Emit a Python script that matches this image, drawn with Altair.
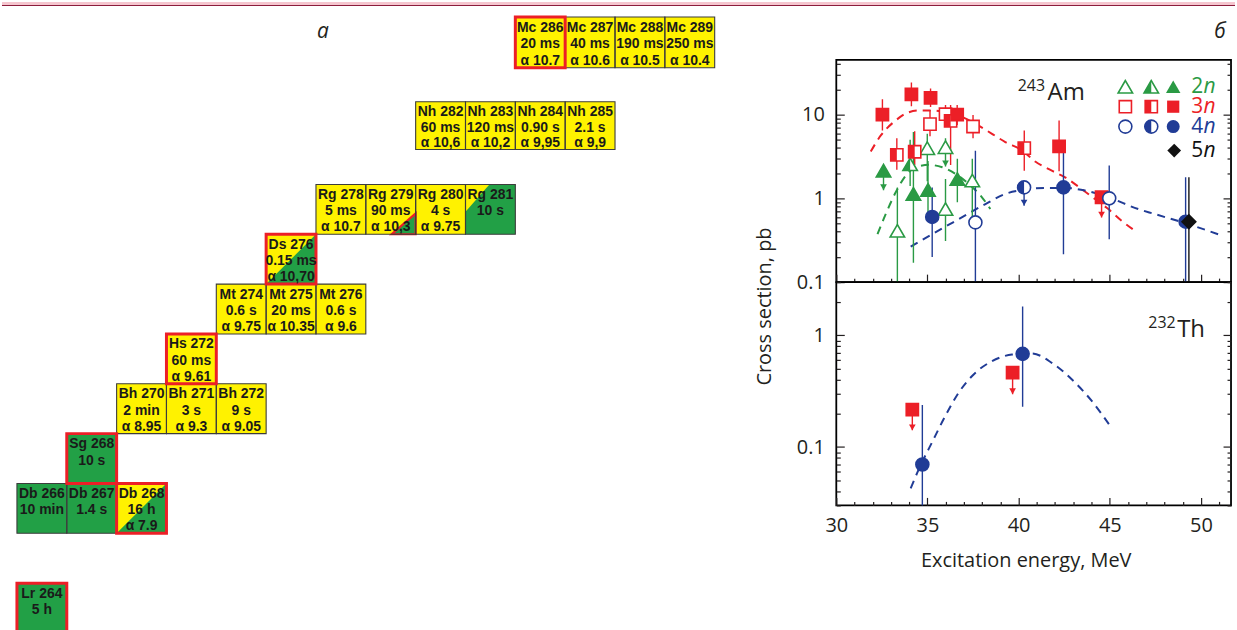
import altair as alt
import pandas as pd

FONT = "Open Sans"
CELL_FONT = "Liberation Sans, Arial, sans-serif"
INK = "#231f20"
YELLOW = "#fff200"
GREEN = "#22a046"
RED = "#ec1f27"
EDGE = "#3c3c3c"

# ---------------- chart of nuclides (panel а) ----------------
nuclide = ["Lr 264", "Db 266", "Db 267", "Db 268", "Sg 268", "Bh 270", "Bh 271", "Bh 272",
           "Hs 272", "Mt 274", "Mt 275", "Mt 276", "Ds 276", "Rg 278", "Rg 279", "Rg 280",
           "Rg 281", "Nh 282", "Nh 283", "Nh 284", "Nh 285", "Mc 286", "Mc 287", "Mc 288",
           "Mc 289"]
proton_number = [103, 105, 105, 105, 106, 107, 107, 107, 108, 109, 109, 109, 110,
                 111, 111, 111, 111, 113, 113, 113, 113, 115, 115, 115, 115]
neutron_number = [161, 161, 162, 163, 162, 163, 164, 165, 164, 165, 166, 167, 166,
                  167, 168, 169, 170, 169, 170, 171, 172, 171, 172, 173, 174]
half_life = ["5 h", "10 min", "1.4 s", "16 h", "10 s", "2 min", "3 s", "9 s", "60 ms",
             "0.6 s", "20 ms", "0.6 s", "0.15 ms", "5 ms", "90 ms", "4 s", "10 s",
             "60 ms", "120 ms", "0.90 s", "2.1 s", "20 ms", "40 ms", "190 ms", "250 ms"]
alpha_energy = ["", "", "", "7.9", "", "8.95", "9.3", "9.05", "9.61", "9.75", "10.35", "9.6",
                "10,70", "10.7", "10,3", "9.75", "", "10,6", "10,2", "9,95", "9,9",
                "10.7", "10.6", "10.5", "10.4"]
main_decay = ["SF", "SF", "SF", "α", "SF", "α", "α", "α", "α", "α", "α", "α", "α",
              "α", "α", "α", "SF", "α", "α", "α", "α", "α", "α", "α", "α"]
red_frame = [1, 0, 0, 1, 1, 0, 0, 0, 1, 0, 0, 0, 1, 0, 0, 0, 0, 0, 0, 0, 0, 1, 0, 0, 0]

# secondary decay branches shown as a corner of the cell
corner_nuclide = ["Db 268", "Ds 276", "Rg 281", "Rg 279"]
corner_shape = ["diagonal", "diagonal", "top_left", "bottom_right"]
corner_decay = ["SF", "SF", "α", "SF"]
corner_outline = [False, False, False, True]

# ---------------- excitation functions (panel б) ----------------
# 243Am + 48Ca
am_series = ["2n"] * 10 + ["3n"] * 13 + ["4n"] * 6 + ["5n"]
am_marker = ["open", "open", "open", "open", "open", "half", "full", "full", "full", "full",
             "open", "open", "open", "half", "half", "half", "half",
             "full", "full", "full", "full", "full", "full",
             "open", "open", "half", "full", "full", "full", "full"]
am_energy = [33.35, 34.99, 35.99, 37.46, 35.99, 34.05, 32.59, 34.23, 35.03, 36.64,
             35.14, 35.99, 37.50, 33.32, 34.30, 36.27, 40.31,
             32.53, 34.12, 35.17, 36.63, 42.22, 44.55,
             37.63, 44.97, 40.30, 35.26, 42.46, 49.16, 49.34]
am_sigma = [0.41, 3.97, 0.745, 1.63, 4.08, 2.55, 2.14, 1.13, 1.26, 1.70,
            7.7, 10.1, 7.2, 3.3, 3.6, 8.4, 3.97,
            10.0, 17.4, 15.8, 10.0, 4.16, 1.03,
            0.516, 1.0, 1.35, 0.60, 1.35, 0.526, 0.526]
am_low = [0.05, 1.6, 0.31, 0.565, None, 1.4, None, 0.17, 0.55, 0.9,
          5.5, 7.5, 5.2, 2.2, 2.5, 2.5, 2.14,
          6.46, 12.6, 12.3, 7.5, 2.1, None,
          0.05, 0.325, None, 0.2, 0.215, 0.05, 0.05]
am_high = [1.35, 5.9, 1.7, 2.96, 5.2, 5.0, None, 6.2, 2.8, 2.96,
           11.3, 13.0, 9.9, 5.23, 6.3, 13.0, 6.46,
           15.2, 24.1, 20.4, 13.0, 8.5, None,
           3.7, 2.46, None, 1.35, 3.55, 1.78, 1.78]
am_limit = [None, None, None, None, 2.4, None, 1.25, None, None, None,
            None, None, None, None, None, None, None,
            None, None, None, None, None, 0.59,
            None, None, 0.817, None, None, None, None]

# 232Th + 48Ca
th_series = ["4n", "4n", "3n", "3n"]
th_marker = ["full", "full", "full", "full"]
th_energy = [34.72, 40.22, 34.17, 39.67]
th_sigma = [0.0697, 0.683, 0.216, 0.463]
th_low = [0.02, 0.23, None, None]
th_high = [0.238, 1.81, None, None]
th_limit = [None, None, 0.141, 0.297]

# calculated cross sections (dashed curves)
am2n_energy = [32.26, 32.71, 33.26, 33.81, 34.35, 35.08, 35.81, 36.54, 37.27, 37.99, 38.45]
am2n_sigma = [0.374, 0.649, 1.18, 1.87, 2.35, 2.51, 2.35, 1.96, 1.48, 1.03, 0.745]
am3n_energy = [31.89, 32.44, 33.26, 33.90, 34.54, 35.26, 35.99, 36.90, 37.63, 38.54,
               39.27, 40.18, 40.91, 41.82, 42.55, 43.46, 44.19, 44.92, 45.65, 46.38]
am3n_sigma = [3.62, 5.63, 8.51, 10.5, 11.2, 11.2, 10.7, 9.33, 7.77, 5.89,
              4.69, 3.75, 2.75, 2.14, 1.78, 1.29, 0.98, 0.745, 0.54, 0.41]
am4n_energy = [34.08, 35.26, 36.72, 38.18, 39.27, 40.36, 41.46, 42.55, 43.64, 44.92,
               46.56, 47.47, 49.29, 51.20]
am4n_sigma = [0.266, 0.374, 0.566, 0.855, 1.13, 1.27, 1.33, 1.33, 1.24, 1.03,
              0.745, 0.649, 0.493, 0.357]
th4n_energy = [34.08, 34.54, 35.26, 35.99, 36.72, 37.45, 38.54, 39.64, 40.73, 41.82,
               42.91, 44.00, 45.00]
th4n_sigma = [0.0427, 0.064, 0.111, 0.191, 0.308, 0.433, 0.588, 0.673, 0.688, 0.568,
              0.404, 0.26, 0.156]

x_ticks = list(range(30, 52))
am_y_ticks = [0.1, 0.2, 0.3, 0.4, 0.5, 0.6, 0.7, 0.8, 0.9,
              1, 2, 3, 4, 5, 6, 7, 8, 9, 10, 20, 30, 40]
th_y_ticks = [0.03, 0.04, 0.05, 0.06, 0.07, 0.08, 0.09,
              0.1, 0.2, 0.3, 0.4, 0.5, 0.6, 0.7, 0.8, 0.9, 1, 2, 3]

# ======================= panel а =======================
decay_fill = {"α": YELLOW, "SF": GREEN}

cells = pd.DataFrame({
    "nuclide": nuclide, "z": proton_number, "n": neutron_number,
    "fill": [decay_fill[d] for d in main_decay], "frame": red_frame,
})
cells["n1"] = cells["n"] + 1
cells["z1"] = cells["z"] + 1

LINE_DEPTH = [0.21, 0.54, 0.86]
text_rows = []
for name, z, n, t, a in zip(nuclide, proton_number, neutron_number, half_life, alpha_energy):
    lines = [name, t] + ([f"α {a}"] if a else [])
    for k, s in enumerate(lines):
        text_rows.append({"tx": n + 0.5, "ty": z + 1 - LINE_DEPTH[k], "label": s})
cell_text = pd.DataFrame(text_rows)

CORNER_GEOMETRY = {
    "diagonal": [(0.0, 0.0, 0.0), (1.0, 0.0, 1.0)],
    "top_left": [(0.0, 0.45, 1.0), (0.48, 1.0, 1.0)],
    "bottom_right": [(0.52, 0.0, 0.0), (1.0, 0.0, 0.42)],
}
corner_rows = []
for name, shape, decay, outlined in zip(corner_nuclide, corner_shape, corner_decay, corner_outline):
    k = nuclide.index(name)
    z, n = proton_number[k], neutron_number[k]
    for dx, lo, hi in CORNER_GEOMETRY[shape]:
        corner_rows.append({"id": name, "ax": n + dx, "alo": z + lo, "ahi": z + hi,
                            "fill": decay_fill[decay],
                            "edge": RED if outlined else "transparent"})
corners = pd.DataFrame(corner_rows)

sn = alt.Scale(domain=[161, 175], range=[15, 715], nice=False, zero=False)
sz = alt.Scale(domain=[103, 112, 113, 114, 115, 116],
               range=[633, 183, 148, 100, 66, 15], nice=False, zero=False)

one = pd.DataFrame({"k": [0]})


def cell_enc():
    return dict(x=alt.X("n:Q", scale=sn, axis=None), x2="n1:Q",
                y=alt.Y("z1:Q", scale=sz, axis=None), y2="z:Q")


cell_fill = alt.Chart(cells).mark_rect(strokeWidth=0).encode(
    fill=alt.Fill("fill:N", scale=None), **cell_enc())
corner_fill = alt.Chart(corners).mark_area(strokeWidth=2.2, opacity=1).encode(
    x=alt.X("ax:Q", scale=sn, axis=None),
    y=alt.Y("alo:Q", scale=sz, axis=None), y2="ahi:Q",
    fill=alt.Fill("fill:N", scale=None), stroke=alt.Stroke("edge:N", scale=None),
    detail="id:N")
cell_edge = alt.Chart(cells).mark_rect(fillOpacity=0, stroke=EDGE, strokeWidth=1.1).encode(
    **cell_enc())
cell_red = alt.Chart(cells).transform_filter("datum.frame == 1").mark_rect(
    fillOpacity=0, stroke=RED, strokeWidth=3).encode(**cell_enc())
cell_label = alt.Chart(cell_text).mark_text(
    font=CELL_FONT, fontSize=14, fontWeight="bold", color="#1a1a1a", baseline="middle"
).encode(x=alt.X("tx:Q", scale=sn, axis=None), y=alt.Y("ty:Q", scale=sz, axis=None),
         text="label:N")

band = alt.Chart(one).mark_rect(color="#f5c6cf").encode(
    x=alt.value(0), x2=alt.value(1237), y=alt.value(0), y2=alt.value(3))
band_line = alt.Chart(one).mark_rule(color="#8c1d3c", strokeWidth=1.2).encode(
    x=alt.value(0), x2=alt.value(1237), y=alt.value(3.5))


def label(text, px, py, size, color=INK, style="normal", align="left", baseline="alphabetic"):
    return alt.Chart(pd.DataFrame({"t": [text]})).mark_text(
        font=FONT, fontSize=size, fontStyle=style, color=color, align=align, baseline=baseline
    ).encode(text="t:N", x=alt.value(px), y=alt.value(py))


panel_a = alt.layer(
    band, band_line, cell_fill, corner_fill, cell_edge, cell_red, cell_label,
    label("а", 322, 30, 21, style="italic", align="center", baseline="middle"),
).properties(width=760, height=630, view=alt.ViewBackground(stroke="transparent"))

# ======================= panel б =======================
SERIES_COLOR = {"2n": "#2a9a44", "3n": RED, "4n": "#213c96", "5n": "#111111"}
BASE_SHAPE = {"2n": "triangle-up", "3n": "square", "4n": "circle", "5n": "diamond"}
HALF_SHAPE = {"2n": "M0,-0.866L0,0.866L-1,0.866Z",
              "3n": "M-1,-1L0,-1L0,1L-1,1Z",
              "4n": "M0,-1A1,1 0 0,0 0,1Z",
              "5n": "M0,-1L0,1L-1,0Z"}
MARK_SIZE = {"2n": 210, "3n": 150, "4n": 170, "5n": 190}


def points_frame(series, marker, energy, sigma, low, high, limit):
    df = pd.DataFrame({"series": series, "marker": marker, "E": energy, "sigma": sigma,
                       "low": low, "high": high, "limit": limit})
    df["color"] = df["series"].map(SERIES_COLOR)
    df["shape"] = df["series"].map(BASE_SHAPE)
    df["half"] = df["series"].map(HALF_SHAPE)
    df["msize"] = df["series"].map(MARK_SIZE)
    df["mfill"] = [c if m == "full" else "white" for c, m in zip(df["color"], df["marker"])]
    df["bar_lo"] = df["limit"].where(df["limit"].notna(), df["low"])
    df["bar_hi"] = df["high"].where(df["high"].notna(), df["sigma"])
    return df


am = points_frame(am_series, am_marker, am_energy, am_sigma, am_low, am_high, am_limit)
th = points_frame(th_series, th_marker, th_energy, th_sigma, th_low, th_high, th_limit)


def curve_frame(parts):
    rows = []
    for name, energy, sigma, color in parts:
        for e, s in zip(energy, sigma):
            rows.append({"curve": name, "E": e, "sigma": s, "color": color})
    return pd.DataFrame(rows)


am_curves = curve_frame([
    ("2n", am2n_energy, am2n_sigma, SERIES_COLOR["2n"]),
    ("3n", am3n_energy, am3n_sigma, SERIES_COLOR["3n"]),
    ("4n", am4n_energy, am4n_sigma, SERIES_COLOR["4n"]),
])
th_curves = curve_frame([("4n", th4n_energy, th4n_sigma, SERIES_COLOR["4n"])])

sx = alt.Scale(domain=[30, 51.65], nice=False, zero=False)


def tick_size(test):
    return {"condition": {"test": test, "value": -8}, "value": -4}


def y_axis(values, majors, orient, title=""):
    test = f"indexof({majors}, datum.value) >= 0"
    kw = dict(orient=orient, values=values, tickSize=tick_size(test), tickColor=INK,
              tickWidth=1.2, domain=False, grid=False, labelOverlap=False, labelFlush=False)
    if orient == "left":
        kw.update(labelExpr=f"{test} ? datum.label : ''", format="~g", labelPadding=20,
                  labelFont=FONT, labelFontSize=20, labelColor=INK)
    else:
        kw.update(labels=False)
    if title:
        kw.update(title=title, titleX=-72, titleY=247, titleFont=FONT, titleFontSize=20,
                  titleFontWeight="normal", titleColor=INK, titleAlign="center",
                  titleBaseline="middle")
    else:
        kw.update(title="")
    return alt.Axis(**kw)


x_axis_plain = alt.Axis(values=x_ticks, labels=False, tickSize=tick_size("datum.value % 5 == 0"),
                        tickColor=INK, tickWidth=1.2, domain=False, grid=False, title="")
x_axis_labelled = alt.Axis(
    values=x_ticks, tickSize=tick_size("datum.value % 5 == 0"), tickColor=INK, tickWidth=1.2,
    domain=False, grid=False, format="d",
    labelExpr="datum.value % 5 == 0 ? datum.label : ''", labelPadding=18, labelFont=FONT,
    labelFontSize=20, labelColor=INK, labelFlush=False, labelOverlap=False,
    title="Excitation energy, MeV", titleFont=FONT, titleFontSize=20, titleFontWeight="normal",
    titleColor=INK, titleX=190, titleY=61, titleAlign="center", titleBaseline="alphabetic")


def data_layers(points, curves, sy, x_axis, left_axis, right_axis):
    X = alt.X("E:Q", scale=sx, axis=x_axis)
    curve = alt.Chart(curves).mark_line(
        strokeDash=[8, 6], strokeWidth=2, clip=True, interpolate="monotone"
    ).encode(x=X, y=alt.Y("sigma:Q", scale=sy, axis=left_axis),
             color=alt.Color("color:N", scale=None), detail="curve:N")
    bars = alt.Chart(points).transform_filter("isValid(datum.bar_lo)").mark_rule(
        strokeWidth=1.4, clip=True
    ).encode(x=X, y=alt.Y("bar_lo:Q", scale=sy, axis=None), y2="bar_hi:Q",
             color=alt.Color("color:N", scale=None))
    heads = alt.Chart(points).transform_filter("isValid(datum.limit)").mark_point(
        shape="triangle-down", size=45, filled=True, opacity=1, yOffset=-3
    ).encode(x=X, y=alt.Y("limit:Q", scale=sy, axis=None),
             color=alt.Color("color:N", scale=None))
    marks = alt.Chart(points).mark_point(filled=True, opacity=1, strokeWidth=1.6).encode(
        x=X, y=alt.Y("sigma:Q", scale=sy, axis=right_axis),
        shape=alt.Shape("shape:N", scale=None), size=alt.Size("msize:Q", scale=None),
        fill=alt.Fill("mfill:N", scale=None), stroke=alt.Stroke("color:N", scale=None))
    halves = alt.Chart(points).transform_filter("datum.marker == 'half'").mark_point(
        filled=True, opacity=1
    ).encode(x=X, y=alt.Y("sigma:Q", scale=sy, axis=None),
             shape=alt.Shape("half:N", scale=None), size=alt.Size("msize:Q", scale=None),
             fill=alt.Fill("color:N", scale=None))
    return [curve, bars, heads, marks, halves]


def glyph(px, py, series, style):
    color = SERIES_COLOR[series]
    base = dict(size=MARK_SIZE[series], filled=True, opacity=1)
    if style == "full":
        layers = [alt.Chart(one).mark_point(shape=BASE_SHAPE[series], fill=color, **base)]
    else:
        layers = [alt.Chart(one).mark_point(shape=BASE_SHAPE[series], fill="white",
                                            stroke=color, strokeWidth=1.6, **base)]
        if style == "half":
            layers.append(alt.Chart(one).mark_point(shape=HALF_SHAPE[series], fill=color, **base))
    return [l.encode(x=alt.value(px), y=alt.value(py)) for l in layers]


legend = []
for series, row_y in [("2n", 27), ("3n", 47), ("4n", 67)]:
    for style, col_x in [("open", 290), ("half", 316), ("full", 338)]:
        legend += glyph(col_x, row_y, series, style)
legend += glyph(339, 91, "5n", "full")
for series, row_y in [("2n", 27), ("3n", 47), ("4n", 67), ("5n", 91)]:
    legend.append(label(series[0], 356, row_y, 21, color=SERIES_COLOR[series], baseline="middle"))
    legend.append(label("n", 368.5, row_y, 21, color=SERIES_COLOR[series], style="italic",
                        baseline="middle"))

sy_am = alt.Scale(type="log", domain=[0.1, 45], nice=False)
sy_th = alt.Scale(type="log", domain=[0.03, 3], nice=False)

am_panel = alt.layer(
    *data_layers(am, am_curves, sy_am, x_axis_plain,
                 y_axis(am_y_ticks, [0.1, 1, 10], "left", "Cross section, pb"),
                 y_axis(am_y_ticks, [0.1, 1, 10], "right")),
    *legend,
    label("243", 182, 31, 16),
    label("Am", 212, 40, 24),
).resolve_axis(y="independent").properties(width=396, height=223)

th_panel = alt.layer(
    *data_layers(th, th_curves, sy_th, x_axis_labelled,
                 y_axis(th_y_ticks, [0.1, 1], "left"),
                 y_axis(th_y_ticks, [0.1, 1], "right")),
    label("232", 313, 46, 16),
    label("Th", 342, 55, 24),
).resolve_axis(y="independent").properties(width=396, height=224)

panel_b_head = label("б", 385, 30, 21, style="italic", align="center", baseline="middle") \
    .properties(width=396, height=58, view=alt.ViewBackground(stroke="transparent"))

panel_b = alt.vconcat(panel_b_head, am_panel, th_panel, spacing=0, bounds="flush")

chart = alt.hconcat(panel_a, panel_b, spacing=77, bounds="flush").properties(
    padding=0
).configure_view(stroke="black", strokeWidth=1.8)

chart.save("out.html", embed_options={"renderer": "svg", "actions": False})
